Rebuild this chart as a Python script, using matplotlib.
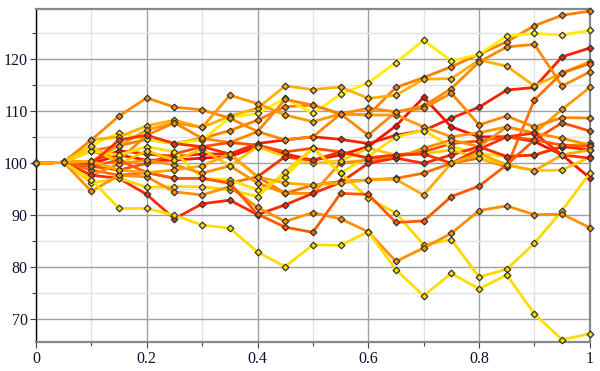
import matplotlib.pyplot as plt
from matplotlib.ticker import MultipleLocator

plt.rcParams["font.family"] = ["Liberation Serif", "DejaVu Serif"]

times = [0, 0.05, 0.1, 0.15, 0.2, 0.25, 0.3, 0.35, 0.4, 0.45, 0.5,
         0.55, 0.6, 0.65, 0.7, 0.75, 0.8, 0.85, 0.9, 0.95, 1.0]

p01 = [100, 100.2, 102.4, 103.4, 104.6, 103.8, 104.8, 106.3, 108.3, 110.9, 111.2, 109.5, 109.3, 114.6, 116.5, 118.6, 121.0, 123.4, 126.5, 128.5, 129.3]
p02 = [100, 100.2, 103.4, 105.9, 104.6, 103.8, 104.5, 108.8, 109.6, 112.5, 109.6, 113.3, 115.5, 119.4, 123.7, 119.7, 121.0, 124.5, 125.0, 124.7, 125.6]
p03 = [100, 100.2, 100.4, 102.4, 101.8, 101.3, 101.8, 101.8, 103.8, 104.5, 105.1, 104.6, 103.8, 105.4, 106.3, 108.7, 110.8, 114.1, 114.6, 120.5, 122.2]
p04 = [100, 100.2, 99.9, 101.6, 100.6, 100.6, 101.0, 101.3, 103.2, 101.8, 100.6, 101.6, 103.2, 107.2, 112.7, 107.0, 105.1, 105.1, 104.2, 101.6, 97.2]
p05 = [100, 100.2, 104.5, 105.1, 107.2, 108.3, 106.9, 109.1, 110.6, 114.9, 114.2, 114.7, 112.5, 113.1, 116.2, 116.3, 119.9, 118.7, 114.9, 117.4, 119.6]
p06 = [100, 100.2, 104.5, 109.1, 112.6, 110.8, 110.3, 108.7, 106.1, 104.5, 105.1, 109.5, 110.6, 109.9, 111.0, 114.4, 119.5, 122.4, 122.9, 114.9, 117.6]
p07 = [100, 100.2, 98.7, 97.7, 98.2, 97.1, 97.1, 96.2, 97.4, 94.2, 95.8, 96.5, 96.8, 97.1, 98.1, 100.0, 101.0, 99.3, 112.2, 117.4, 119.2]
p08 = [100, 100.2, 100.4, 103.4, 106.4, 107.8, 106.9, 113.1, 111.5, 109.3, 108.0, 109.5, 109.3, 109.3, 107.0, 105.1, 105.9, 107.0, 105.8, 110.4, 114.6]
p09 = [100, 100.2, 102.4, 100.6, 105.4, 107.8, 104.8, 104.0, 106.1, 112.3, 111.2, 109.5, 105.4, 109.9, 110.6, 113.5, 107.4, 109.1, 107.0, 108.8, 108.7]
p10 = [100, 100.2, 99.4, 98.7, 100.0, 101.8, 103.2, 104.0, 103.5, 102.2, 102.9, 102.2, 101.0, 101.6, 102.2, 103.8, 104.3, 105.1, 104.5, 107.8, 106.2]
p11 = [100, 100.2, 102.4, 101.6, 103.2, 102.2, 97.1, 96.8, 94.9, 97.4, 102.9, 98.1, 101.3, 105.1, 106.3, 103.2, 101.9, 101.3, 101.6, 103.2, 103.9]
p12 = [100, 100.2, 97.7, 99.9, 100.6, 99.7, 98.1, 99.5, 96.2, 94.2, 94.2, 100.1, 100.6, 101.0, 102.9, 104.5, 103.2, 107.0, 105.8, 104.8, 103.5]
p13 = [100, 100.2, 97.7, 97.1, 94.0, 89.3, 92.2, 92.9, 90.1, 92.0, 94.2, 96.3, 100.0, 101.0, 100.0, 101.6, 103.2, 101.3, 101.6, 103.2, 102.6]
p14 = [100, 100.2, 103.4, 99.9, 102.4, 100.6, 102.7, 99.5, 103.2, 101.3, 100.0, 100.5, 102.9, 101.6, 101.8, 102.6, 101.0, 99.7, 98.6, 98.7, 101.2]
p15 = [100, 100.2, 99.9, 104.5, 105.4, 103.8, 103.2, 101.8, 97.4, 101.3, 100.6, 102.2, 101.0, 101.6, 101.8, 100.0, 102.7, 105.1, 105.8, 101.6, 101.0]
p16 = [100, 100.2, 96.2, 97.1, 95.4, 95.5, 95.5, 94.9, 93.6, 98.4, 102.9, 98.1, 93.3, 90.4, 84.3, 85.3, 78.1, 79.6, 84.6, 90.9, 98.1]
p17 = [100, 100.2, 94.6, 97.7, 97.4, 94.5, 93.9, 95.5, 91.5, 88.8, 90.5, 89.3, 86.8, 81.1, 83.7, 86.5, 90.9, 91.8, 90.1, 90.2, 87.6]
p18 = [100, 100.2, 96.8, 91.3, 91.3, 90.0, 88.1, 87.5, 82.9, 80.1, 84.3, 84.2, 86.8, 79.5, 74.5, 78.8, 75.8, 78.5, 71.0, 66.0, 67.2]
p19 = [100, 100.2, 99.4, 100.6, 98.2, 97.1, 97.1, 96.2, 90.2, 87.7, 86.7, 94.2, 94.0, 88.6, 88.9, 93.6, 95.6, 99.7, 104.5, 103.5, 103.3]
p20 = [100, 100.2, 100.4, 98.7, 98.2, 98.7, 99.5, 101.8, 97.4, 96.2, 95.8, 96.2, 96.8, 96.9, 93.9, 100.0, 101.9, 99.7, 98.6, 101.6, 102.6]

paths = [p01, p02, p03, p04, p05, p06, p07, p08, p09, p10,
         p11, p12, p13, p14, p15, p16, p17, p18, p19, p20]
colors = ["#ff8000", "#ffee00", "#ff2000", "#ff1000", "#ffb000",
          "#ff8a00", "#ff7000", "#ff9a00", "#ff8800", "#ff5000",
          "#ffe000", "#ff9000", "#ff2a00", "#ffc800", "#ff3000",
          "#ffd800", "#ff9000", "#ffdd00", "#ff5a00", "#ffaa00"]

fig = plt.figure(figsize=(6, 3.71), dpi=100)
ax = fig.add_axes([0.06, 0.077, 0.923, 0.9])

for vals, c in zip(paths, colors):
    ax.plot(times, vals, color=c, lw=2.0, marker="D", markersize=3.4,
            markerfacecolor=c, markeredgecolor="#333333",
            markeredgewidth=0.9, clip_on=False, zorder=3)

ax.set_xlim(0, 1)
ax.set_ylim(65.5, 129.8)

ax.xaxis.set_major_locator(MultipleLocator(0.2))
ax.xaxis.set_minor_locator(MultipleLocator(0.1))
ax.yaxis.set_major_locator(MultipleLocator(10))
ax.yaxis.set_minor_locator(MultipleLocator(5))
ax.set_xticks([0, 0.2, 0.4, 0.6, 0.8, 1.0])
ax.set_xticklabels(["0", "0.2", "0.4", "0.6", "0.8", "1"])

ax.grid(which="major", color="#a0a0a0", lw=1, zorder=0)
ax.grid(which="minor", color="#e2e2e2", lw=1, zorder=0)
ax.set_axisbelow(True)

for side in ["top", "right", "bottom"]:
    ax.spines[side].set_color("#888888")
    ax.spines[side].set_linewidth(1.6)
ax.spines["left"].set_color("black")
ax.spines["left"].set_linewidth(1.0)

ax.tick_params(which="both", direction="out", labelsize=11.5,
               labelcolor="#101030", color="#444444", width=0.8)
ax.tick_params(which="major", length=4)
ax.tick_params(which="minor", length=3)
ax.tick_params(axis="x", pad=2)
ax.tick_params(axis="y", pad=2)

fig.savefig("out.png", dpi=100)
plt.close(fig)
